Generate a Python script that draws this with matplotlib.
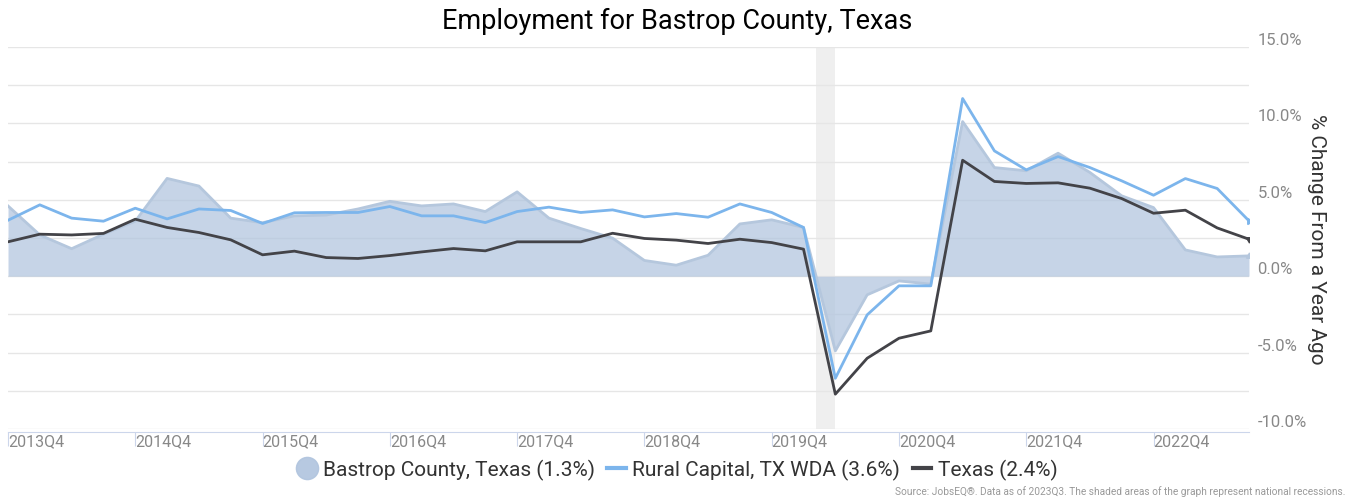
import numpy as np
import matplotlib
matplotlib.use("Agg")
import matplotlib.pyplot as plt
from matplotlib.lines import Line2D
from matplotlib.ticker import MultipleLocator, FuncFormatter

plt.rcParams['font.family'] = ['Roboto', 'DejaVu Sans']

# quarters 2013Q4 .. 2023Q3
quarters = [f"{y}Q{q}" for y in range(2013, 2024) for q in range(1, 5)][3:43]
tick_labels = ['2013Q4', '2014Q4', '2015Q4', '2016Q4', '2017Q4',
               '2018Q4', '2019Q4', '2020Q4', '2021Q4', '2022Q4']

bastrop = [4.6, 2.7, 1.8, 2.75, 3.6, 6.4, 5.9, 3.8, 3.5, 3.95,
           4.0, 4.4, 4.9, 4.6, 4.73, 4.23, 5.52, 3.8, 3.12, 2.49,
           1.03, 0.72, 1.37, 3.42, 3.69, 3.19, -4.89, -1.22, -0.31, -0.52,
           10.12, 7.11, 6.9, 8.05, 6.79, 5.26, 4.49, 1.72, 1.26, 1.33]
rural = [3.66, 4.67, 3.8, 3.6, 4.45, 3.75, 4.4, 4.3, 3.45, 4.15,
         4.17, 4.17, 4.56, 3.95, 3.95, 3.51, 4.23, 4.52, 4.17, 4.34,
         3.88, 4.1, 3.86, 4.73, 4.17, 3.19, -6.68, -2.53, -0.63, -0.63,
         11.63, 8.2, 6.96, 7.83, 7.11, 6.24, 5.3, 6.39, 5.74, 3.62]
texas = [2.25, 2.75, 2.7, 2.8, 3.73, 3.19, 2.86, 2.38, 1.4, 1.64,
         1.22, 1.16, 1.35, 1.59, 1.81, 1.66, 2.25, 2.25, 2.25, 2.81,
         2.47, 2.36, 2.14, 2.42, 2.2, 1.77, -7.72, -5.37, -4.06, -3.58,
         7.59, 6.2, 6.07, 6.11, 5.76, 5.08, 4.12, 4.32, 3.16, 2.42]

# recession band (2020 Feb-Apr) in quarter index units
recession = (25.4, 26.0)

x = np.arange(len(quarters))

fig = plt.figure(figsize=(13.55, 5.02), dpi=100)
ax = fig.add_axes([8 / 1355, 1 - 430 / 502, (1249 - 8) / 1355, (430 - 48) / 502])

ax.axvspan(recession[0], recession[1], color='#efefef', lw=0, zorder=0)

ax.fill_between(x, 0, bastrop, color='#b0c4de', alpha=0.72, lw=0, zorder=1)
ax.plot(x, bastrop, color='#b5c7dd', lw=2, zorder=2)
ax.plot(x[-1], bastrop[-1], marker=(3, 0, 0), ms=5, color='#b5c7dd', zorder=2)
ax.plot(x, rural, color='#7cb5ec', lw=2, zorder=3)
ax.plot(x[-1], rural[-1], marker=(3, 0, 30), ms=5, color='#7cb5ec', zorder=3)
ax.plot(x, texas, color='#434348', lw=2, zorder=4)
ax.plot(x[-1], texas[-1], marker=(3, 0, 60), ms=5, color='#434348', zorder=4)

ax.set_xlim(0, len(quarters) - 1)
ax.set_ylim(-10, 15)

# grid every 2.5, labels every 5
ax.yaxis.set_major_locator(MultipleLocator(5))
ax.yaxis.set_minor_locator(MultipleLocator(2.5))
ax.grid(axis='y', which='both', color='#e6e6e6', lw=1)
ax.set_axisbelow(True)
ax.yaxis.tick_right()
ax.yaxis.set_major_formatter(FuncFormatter(lambda v, p: f"{v:.1f}%"))
ax.tick_params(axis='y', which='both', length=0, labelsize=12,
               labelcolor='#888888', pad=6)

ax.tick_params(axis='x', length=10, color='#ccd6eb', labelsize=11.5,
               labelcolor='#888888', pad=-9)
ax.set_xticks(x[::4], tick_labels)

for s in ['top', 'left', 'right']:
    ax.spines[s].set_visible(False)
ax.spines['bottom'].set_color('#ccd6eb')
ax.spines['bottom'].set_position(('outward', 2))

ax.yaxis.set_label_position('right')
ax.set_ylabel('% Change From a Year Ago', rotation=270, fontsize=15,
              color='#333333', labelpad=14)

fig.suptitle('Employment for Bastrop County, Texas', x=0.5, y=0.985,
             fontsize=19.5, color='#000000')

handles = [
    Line2D([], [], marker='o', ls='none', ms=16, color='#b0c4de', alpha=0.9),
    Line2D([], [], color='#7cb5ec', lw=3),
    Line2D([], [], color='#434348', lw=3),
]
labels = ['Bastrop County, Texas (1.3%)', 'Rural Capital, TX WDA (3.6%)',
          'Texas (2.4%)']
fig.legend(handles, labels, loc='center', bbox_to_anchor=(0.5, 1 - 470 / 502),
           ncol=3, frameon=False, fontsize=15, handlelength=0.9,
           handletextpad=0.3, columnspacing=0.6, labelcolor='#333333')

fig.text(0.993, 1 - 492 / 502,
         'Source: JobsEQ®. Data as of 2023Q3. The shaded areas of the graph represent national recessions.',
         ha='right', va='center', fontsize=7.3, color='#999999')

fig.canvas.draw()
for lab in ax.get_xticklabels():
    lab.set_horizontalalignment('left')
for lab in ax.get_yticklabels():
    lab.set_verticalalignment('bottom')

fig.savefig('out.png', dpi=100)
